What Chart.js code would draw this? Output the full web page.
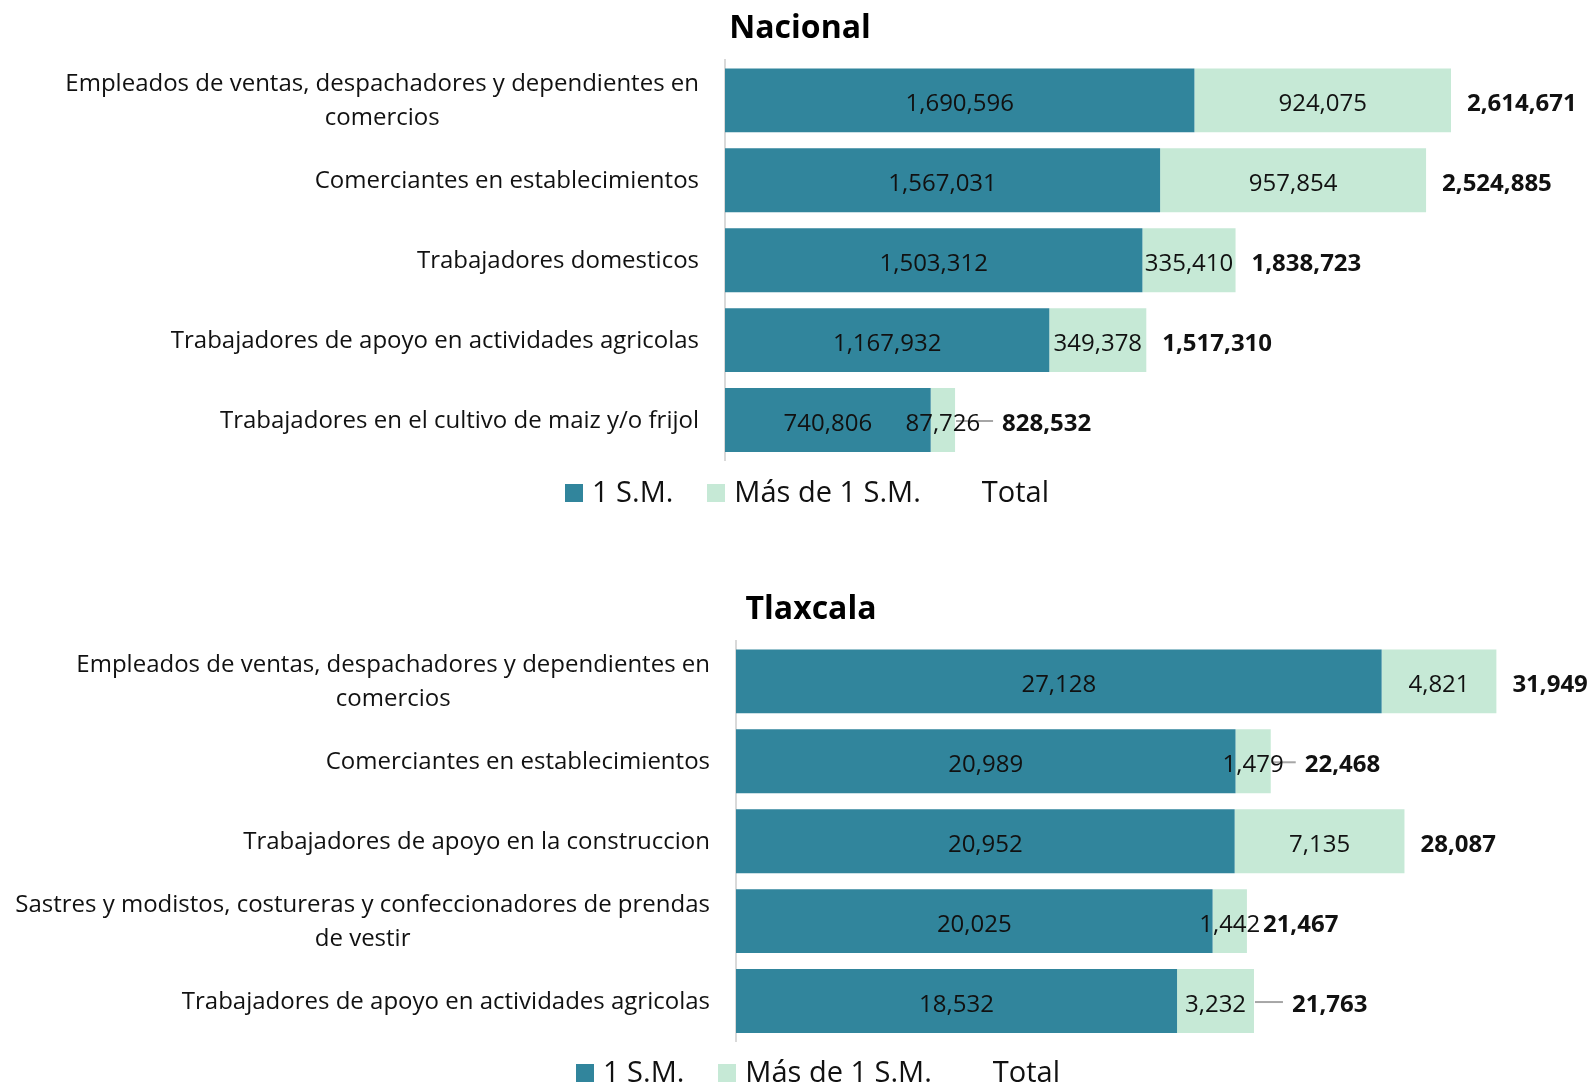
<!DOCTYPE html>
<html>
<head>
<meta charset="utf-8">
<script src="https://cdn.jsdelivr.net/npm/chart.js@4.4.1/dist/chart.umd.min.js"></script>
<style>
  html, body { margin: 0; padding: 0; background: #fff; overflow: hidden; width: 1591px; height: 1084px; }
  .panel { position: absolute; width: 1600px; height: 520px; }
  .leyenda { position: absolute; display: flex; align-items: center; font-family: "Open Sans", sans-serif; font-size: 29px; color: #111; white-space: nowrap; }
  .leyenda .item { display: flex; align-items: center; margin-right: 34px; }
  .leyenda .caja { width: 18px; height: 18px; margin-right: 9px; margin-top: 4px; }
</style>
</head>
<body>
<div class="panel" style="left:0; top:0;"><canvas id="nacional" width="1600" height="520"></canvas><div class="leyenda" id="leyendaNacional" style="left:565px; top:471px;"></div></div>
<div class="panel" style="left:11px; top:581px;"><canvas id="tlaxcala" width="1600" height="520"></canvas><div class="leyenda" id="leyendaTlaxcala" style="left:565px; top:470px;"></div></div>
<script>
// series
const series = ["1 S.M.", "Más de 1 S.M.", "Total"];
const colores = ["#31859C", "#C6E9D6", "transparent"];

// Nacional
const nacionalCategorias = [
    ["Empleados de ventas, despachadores y dependientes en", "comercios"],
    "Comerciantes en establecimientos",
    "Trabajadores domesticos",
    "Trabajadores de apoyo en actividades agricolas",
    "Trabajadores en el cultivo de maiz y/o frijol"
];
const nacional1SM = [1690596, 1567031, 1503312, 1167932, 740806];
const nacionalMas1SM = [924075, 957854, 335410, 349378, 87726];
const nacionalTotal = [2614671, 2524885, 1838723, 1517310, 828532];

// Tlaxcala
const tlaxcalaCategorias = [
    ["Empleados de ventas, despachadores y dependientes en", "comercios"],
    "Comerciantes en establecimientos",
    "Trabajadores de apoyo en la construccion",
    ["Sastres y modistos, costureras y confeccionadores de prendas", "de vestir"],
    "Trabajadores de apoyo en actividades agricolas"
];
const tlaxcala1SM = [27128, 20989, 20952, 20025, 18532];
const tlaxcalaMas1SM = [4821, 1479, 7135, 1442, 3232];
const tlaxcalaTotal = [31949, 22468, 28087, 21467, 21763];

// extra shift of total labels that were moved by hand (with leader line)
const nacionalDesplazo = [0, 0, 0, 0, 31];
const tlaxcalaDesplazo = [0, 18, 0, 0, 22];

const FUENTE = '"Open Sans", sans-serif';
const fmt = v => v.toLocaleString('en-US');

const etiquetas = {
    id: 'etiquetas',
    afterDatasetsDraw(chart, args, opts) {
        const ctx = chart.ctx;
        const xs = chart.scales.x;
        const ys = chart.scales.y;
        ctx.save();

        // leader lines
        opts.totales.forEach((t, i) => {
            if (!opts.desplazo[i]) return;
            const yc = ys.getPixelForValue(i);
            const fin = xs.getPixelForValue(t);
            const inicio = fin + 16 + opts.desplazo[i];
            ctx.strokeStyle = '#A6A6A6';
            ctx.lineWidth = 2;
            ctx.beginPath();
            ctx.moveTo(fin + 1, yc + 1);
            ctx.lineTo(inicio - 9, yc + 1);
            ctx.stroke();
        });

        // segment values
        ctx.fillStyle = '#111';
        ctx.font = '24px ' + FUENTE;
        ctx.textAlign = 'center';
        ctx.textBaseline = 'middle';
        chart.data.datasets.forEach((ds, di) => {
            chart.getDatasetMeta(di).data.forEach((bar, i) => {
                const p = bar.getProps(['x', 'y', 'base'], true);
                ctx.fillText(fmt(ds.data[i]), (p.x + p.base) / 2, p.y + 4);
            });
        });

        // totals
        ctx.font = 'bold 24px ' + FUENTE;
        ctx.textAlign = 'left';
        opts.totales.forEach((t, i) => {
            const x = xs.getPixelForValue(t) + 16 + opts.desplazo[i];
            ctx.fillText(fmt(t), x, ys.getPixelForValue(i) + 4);
        });

        // category labels, multi-line blocks centered like Excel
        ctx.font = '24px ' + FUENTE;
        ctx.textAlign = 'center';
        const derecha = chart.chartArea.left - 26;
        chart.data.labels.forEach((lab, i) => {
            const lineas = Array.isArray(lab) ? lab : [lab];
            const ancho = Math.max(...lineas.map(l => ctx.measureText(l).width));
            const cx = derecha - ancho / 2;
            const yc = ys.getPixelForValue(i) + 1;
            const alto = 33.5;
            lineas.forEach((l, k) => {
                ctx.fillText(l, cx, yc + (k - (lineas.length - 1) / 2) * alto);
            });
        });
        ctx.restore();
    }
};

function crearGrafica(id, titulo, categorias, serie1, serie2, totales, desplazo, maximo) {
    return new Chart(document.getElementById(id), {
        type: 'bar',
        data: {
            labels: categorias,
            datasets: [
                { label: series[0], data: serie1, backgroundColor: colores[0] },
                { label: series[1], data: serie2, backgroundColor: colores[1] }
            ]
        },
        options: {
            indexAxis: 'y',
            responsive: false,
            animation: false,
            barPercentage: 0.8,
            categoryPercentage: 1.0,
            layout: { padding: { left: 42, right: 42, top: 0, bottom: 60 } },
            scales: {
                x: { stacked: true, display: false, min: 0, max: maximo },
                y: {
                    stacked: true,
                    grid: { display: false },
                    ticks: { display: false },
                    border: { display: true, color: '#D9D9D9', width: 2 },
                    afterFit: s => { s.width = 683; }
                }
            },
            plugins: {
                legend: { display: false },
                tooltip: { enabled: false },
                title: {
                    display: true,
                    text: titulo,
                    color: '#000',
                    font: { family: FUENTE, size: 32, weight: 'bold' },
                    padding: { top: 10, bottom: 12 }
                },
                etiquetas: { totales: totales, desplazo: desplazo }
            }
        },
        plugins: [etiquetas]
    });
}

function crearLeyenda(id) {
    const cont = document.getElementById(id);
    series.forEach((nombre, i) => {
        const item = document.createElement('div');
        item.className = 'item';
        const caja = document.createElement('span');
        caja.className = 'caja';
        caja.style.background = colores[i];
        item.appendChild(caja);
        const txt = document.createElement('span');
        txt.textContent = nombre;
        item.appendChild(txt);
        cont.appendChild(item);
    });
}

crearGrafica('nacional', 'Nacional', nacionalCategorias, nacional1SM, nacionalMas1SM, nacionalTotal, nacionalDesplazo, 3000000);
crearGrafica('tlaxcala', 'Tlaxcala', tlaxcalaCategorias, tlaxcala1SM, tlaxcalaMas1SM, tlaxcalaTotal, tlaxcalaDesplazo, 35000);
crearLeyenda('leyendaNacional');
crearLeyenda('leyendaTlaxcala');
</script>
</body>
</html>
